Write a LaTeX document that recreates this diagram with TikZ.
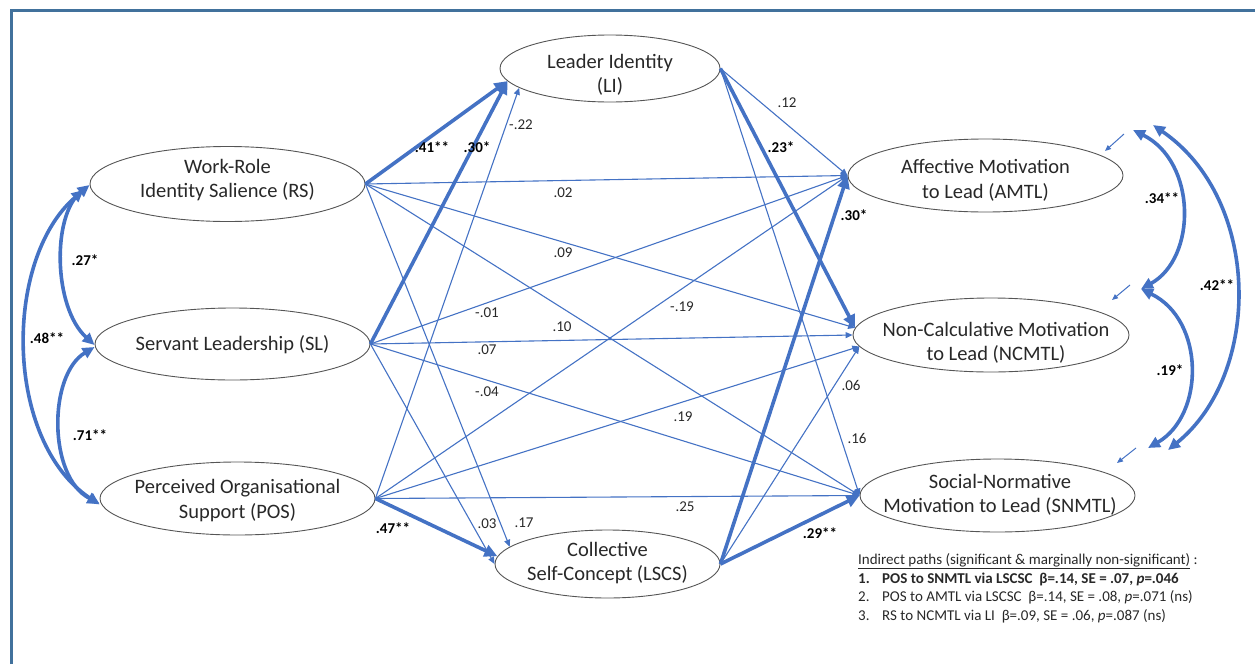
\documentclass[tikz,border=0pt]{standalone}
\usepackage{fontspec}
\setmainfont{Carlito}
\usetikzlibrary{arrows.meta,shapes.geometric}
\definecolor{pathblue}{RGB}{68,114,196}
\definecolor{frameblue}{RGB}{65,113,156}
\definecolor{rim}{RGB}{85,85,85}
\definecolor{ink}{RGB}{40,40,40}
\begin{document}
\begin{tikzpicture}[x=1pt,y=-1pt,
  construct/.style={ellipse, draw=rim, line width=0.9pt, inner sep=0pt},
  ctext/.style={font=\fontsize{20.5}{24.5}\selectfont, text=ink, align=center, inner sep=0pt},
  thinpath/.style={draw=pathblue, line width=1.1pt, -{Triangle[length=7pt,width=6pt]}},
  thickpath/.style={draw=pathblue, line width=3.6pt, -{Triangle[length=13pt,width=12pt]}},
  coef/.style={font=\fontsize{15}{17}\selectfont, text=ink, inner sep=0pt},
  sig/.style={font=\bfseries\fontsize{15}{17}\selectfont, text=black, inner sep=0pt},
  covpath/.style={draw=pathblue, line width=3.6pt, {Triangle[length=12pt,width=11pt]}-{Triangle[length=12pt,width=11pt]}},
  errpath/.style={draw=pathblue, line width=1pt, -{Triangle[length=6pt,width=5pt]}},
  legend/.style={font=\fontsize{15}{18}\selectfont, text=ink, anchor=base west, inner sep=0pt}
]
\useasboundingbox (0,0) rectangle (1255,664);

% frame
\draw[frameblue, line width=3pt] (11,664) -- (11,10.5) -- (1256,10.5);

% constructs
\node[construct, minimum width=275pt, minimum height=75pt] (RS) at (227.5,184) {};
\node[construct, minimum width=275pt, minimum height=72pt] (SL) at (232.5,344) {};
\node[construct, minimum width=275pt, minimum height=73pt] (POS) at (237.5,498.5) {};
\node[construct, minimum width=220pt, minimum height=67pt] (LI) at (610,68.5) {};
\node[construct, minimum width=225pt, minimum height=68pt] (LSCS) at (607.5,564) {};
\node[construct, minimum width=275pt, minimum height=73pt] (AMTL) at (985.5,175.5) {};
\node[construct, minimum width=276pt, minimum height=74pt] (NCMTL) at (991,335) {};
\node[construct, minimum width=275pt, minimum height=73pt] (SNMTL) at (997.5,495.5) {};

\node[ctext] (RSt) at (227.5,180) {Work-Role\\Identity Salience (RS)};
\node[ctext] (SLt) at (232.5,345) {Servant Leadership (SL)};
\node[ctext] (POSt) at (237.5,500.5) {Perceived Organisational\\Support (POS)};
\node[ctext] (LIt) at (610,75) {Leader Identity\\(LI)};
\node[ctext] (LSCSt) at (607.5,563) {Collective\\Self-Concept (LSCS)};
\node[ctext] (AMTLt) at (985.5,180.5) {Affective Motivation\\to Lead (AMTL)};
\node[ctext] (NCMTLt) at (996,343) {Non-Calculative Motivation\\to Lead (NCMTL)};
\node[ctext] (SNMTLt) at (1000,495) {Social-Normative\\Motivation to Lead (SNMTL)};

% paths from work-role identity salience
\draw[thickpath] (RS.east) -- (LI.187);
\draw[thinpath] (RS.east) -- (AMTL.west);
\draw[thinpath] (RS.east) -- (NCMTL.177);
\draw[thinpath] (RS.east) -- (SNMTL.west);
\draw[thinpath] (RS.east) -- (LSCS.170);

% paths from servant leadership
\draw[thickpath] (SL.east) -- (LI.187);
\draw[thinpath] (SL.east) -- (AMTL.west);
\draw[thinpath] (SL.east) -- (NCMTL.west);
\draw[thinpath] (SL.east) -- (SNMTL.west);
\draw[thinpath] (SL.east) -- (LSCS.west);

% paths from perceived organisational support
\draw[thinpath] (POS.east) -- (LI.192);
\draw[thinpath] (POS.east) -- (AMTL.west);
\draw[thinpath] (POS.east) -- (NCMTL.185);
\draw[thinpath] (POS.east) -- (SNMTL.west);
\draw[thickpath] (POS.east) -- (LSCS.176);

% paths from leader identity
\draw[thinpath] (LI.east) -- (AMTL.west);
\draw[thickpath] (LI.east) -- (NCMTL.177);
\draw[thinpath] (LI.east) -- (SNMTL.west);

% paths from collective self-concept
\draw[thickpath] (LSCS.east) -- (AMTL.west);
\draw[thinpath] (LSCS.east) -- (NCMTL.185);
\draw[thickpath] (LSCS.east) -- (SNMTL.west);

% covariances among predictors
\draw[covpath] ([yshift=-1pt]RS.west) .. controls (52,215) and (53,307) .. ([yshift=-1pt]SL.west);
\draw[covpath] ([xshift=-6pt,yshift=-6pt]RS.west) .. controls (3,260) and (4,441) .. ([yshift=-6pt]POS.west);
\draw[covpath] ([yshift=-3pt]SL.west) .. controls (48,375) and (48,477) .. ([yshift=-5pt]POS.west);

% residual covariances among outcomes
\coordinate (rA) at (1133,130);
\coordinate (rN) at (1141,289);
\coordinate (rS) at (1148,448);
\coordinate (rA2) at (1153,125);
\coordinate (rS2) at (1168,450);
\draw[covpath] (rA) .. controls (1197,162) and (1197,258) .. (rN);
\draw[covpath] (rN) .. controls (1205,320) and (1205,415) .. (rS);
\draw[covpath] (rA2) .. controls (1262,200) and (1262,374) .. (rS2);

% residual terms
\coordinate (eA) at (1124,134);
\coordinate (eAe) at (1105,151);
\coordinate (eN) at (1130,285);
\coordinate (eNe) at (1112,300);
\coordinate (eS) at (1136,448);
\coordinate (eSe) at (1117,463);
\draw[errpath] (eA) -- (eAe);
\draw[errpath] (eN) -- (eNe);
\draw[errpath] (eS) -- (eSe);

% coefficients
\node[sig] (k41) at (432,147) {.41**};
\node[sig] (k30a) at (477,147) {.30*};
\node[coef] (k22) at (521,125) {-.22};
\node[coef] (k02) at (563,193) {.02};
\node[coef] (k09) at (563,253) {.09};
\node[coef] (k01) at (487,313) {-.01};
\node[coef] (k10) at (562,327) {.10};
\node[coef] (k07) at (487,350) {.07};
\node[coef] (k19n) at (682,307) {-.19};
\node[coef] (k04) at (487,392) {-.04};
\node[coef] (k19) at (683,417) {.19};
\node[coef] (k25) at (685,507) {.25};
\node[sig] (k47) at (393,528) {.47**};
\node[coef] (k03) at (487,524) {.03};
\node[coef] (k17) at (524,523) {.17};
\node[coef] (k12) at (787,103) {.12};
\node[sig] (k23) at (781,147) {.23*};
\node[sig] (k30b) at (854,215) {.30*};
\node[coef] (k06) at (851,385) {.06};
\node[coef] (k16) at (857,438) {.16};
\node[sig] (k29) at (820,533) {.29**};
\node[sig] (k27) at (85,260) {.27*};
\node[sig] (k48) at (47,338) {.48**};
\node[sig] (k71) at (90,435) {.71**};
\node[sig] (k34) at (1162,198) {.34**};
\node[sig] (k42) at (1217,285) {.42**};
\node[sig] (k19s) at (1170,370) {.19*};

% indirect paths
\node[legend] (lg0) at (858,564) {\underline{Indirect paths (significant \& marginally non-significant)}\ :};
\node[legend, font=\bfseries\fontsize{15}{18}\selectfont] (lg1) at (858,583) {\makebox[24pt][l]{1.}POS to SNMTL via LSCSC\ \ β=.14, SE = .07, \textit{p}=.046};
\node[legend] (lg2) at (858,601.5) {\makebox[24pt][l]{2.}POS to AMTL via LSCSC\ \ β=.14, SE = .08, \textit{p}=.071 (ns)};
\node[legend] (lg3) at (858,620.5) {\makebox[24pt][l]{3.}RS to NCMTL via LI\ \ β=.09, SE = .06, \textit{p}=.087 (ns)};
\end{tikzpicture}
\end{document}
